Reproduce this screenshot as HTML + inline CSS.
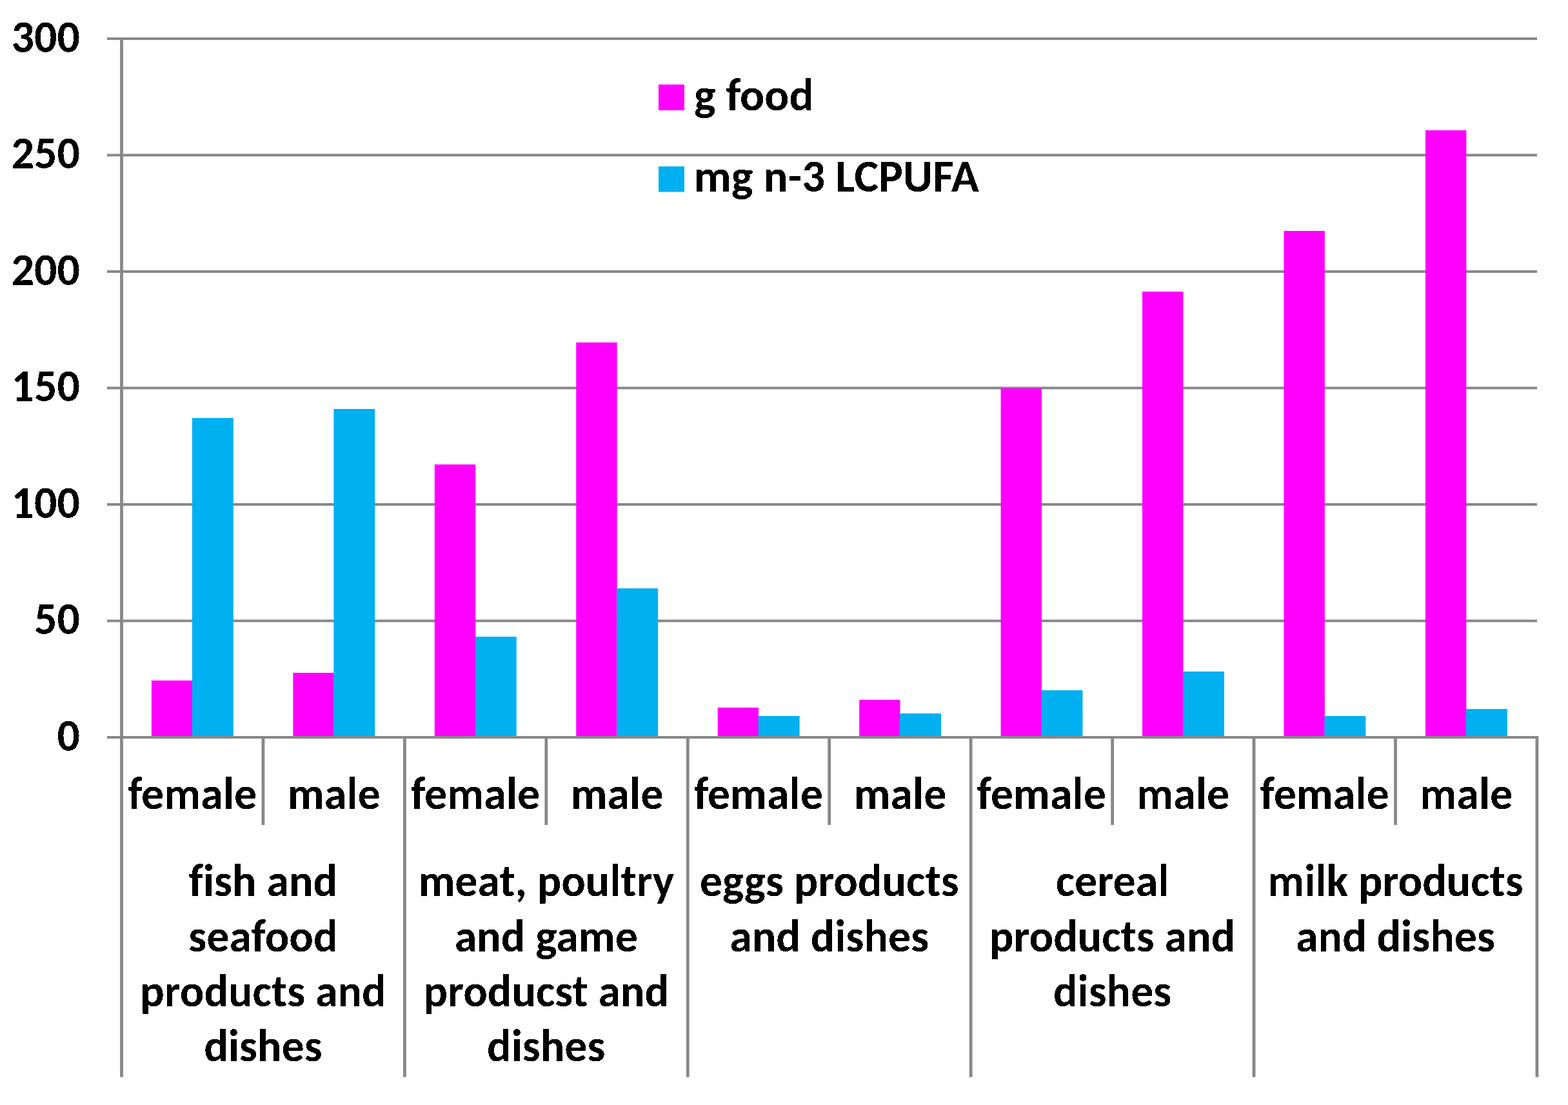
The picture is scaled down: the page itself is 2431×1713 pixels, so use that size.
<!DOCTYPE html>
<html><head><meta charset="utf-8"><title>Chart</title>
<style>
html,body{margin:0;padding:0;background:#fff;}
body{width:2431px;height:1713px;overflow:hidden;}
svg{display:block;}
text{font-family:Carlito, 'Liberation Sans', Arial, sans-serif;font-weight:bold;fill:#000;font-size-adjust:0.4849;font-variant-ligatures:none;font-feature-settings:"liga" 0,"clig" 0;}
</style></head>
<body>
<svg width="2431" height="1713" viewBox="0 0 2431 1713">
<rect width="2431" height="1713" fill="#fff"/>
<rect x="166" y="1141.00" width="2217" height="4" fill="#888888"/>
<rect x="166" y="960.50" width="2217" height="4" fill="#888888"/>
<rect x="166" y="780.00" width="2217" height="4" fill="#888888"/>
<rect x="166" y="599.50" width="2217" height="4" fill="#888888"/>
<rect x="166" y="419.00" width="2217" height="4" fill="#888888"/>
<rect x="166" y="238.50" width="2217" height="4" fill="#888888"/>
<rect x="166" y="58.00" width="2217" height="4" fill="#888888"/>
<rect x="234.93" y="1054.90" width="63.4" height="88.10" fill="#FF00FF"/>
<rect x="454.37" y="1043.00" width="63.4" height="100.00" fill="#FF00FF"/>
<rect x="673.82" y="720.00" width="63.4" height="423.00" fill="#FF00FF"/>
<rect x="893.26" y="530.90" width="63.4" height="612.10" fill="#FF00FF"/>
<rect x="1112.71" y="1096.90" width="63.4" height="46.10" fill="#FF00FF"/>
<rect x="1332.15" y="1084.90" width="63.4" height="58.10" fill="#FF00FF"/>
<rect x="1551.59" y="602.00" width="63.4" height="541.00" fill="#FF00FF"/>
<rect x="1771.04" y="452.00" width="63.4" height="691.00" fill="#FF00FF"/>
<rect x="1990.48" y="358.00" width="63.4" height="785.00" fill="#FF00FF"/>
<rect x="2209.93" y="202.00" width="63.4" height="941.00" fill="#FF00FF"/>
<rect x="297.93" y="648.00" width="63.9" height="495.00" fill="#00B0F0"/>
<rect x="517.37" y="634.00" width="63.9" height="509.00" fill="#00B0F0"/>
<rect x="736.82" y="987.00" width="63.9" height="156.00" fill="#00B0F0"/>
<rect x="956.26" y="912.10" width="63.9" height="230.90" fill="#00B0F0"/>
<rect x="1175.71" y="1109.90" width="63.9" height="33.10" fill="#00B0F0"/>
<rect x="1395.15" y="1106.00" width="63.9" height="37.00" fill="#00B0F0"/>
<rect x="1614.59" y="1070.10" width="63.9" height="72.90" fill="#00B0F0"/>
<rect x="1834.04" y="1041.00" width="63.9" height="102.00" fill="#00B0F0"/>
<rect x="2053.48" y="1110.00" width="63.9" height="33.00" fill="#00B0F0"/>
<rect x="2272.93" y="1099.10" width="63.9" height="43.90" fill="#00B0F0"/>
<rect x="166" y="1141.00" width="2217" height="4" fill="#888888"/>
<rect x="186.1" y="58" width="4.8" height="1611.8" fill="#888888"/>
<rect x="405.54" y="1141" width="4.8" height="137.90" fill="#888888"/>
<rect x="624.99" y="1141" width="4.8" height="528.80" fill="#888888"/>
<rect x="844.43" y="1141" width="4.8" height="137.90" fill="#888888"/>
<rect x="1063.88" y="1141" width="4.8" height="528.80" fill="#888888"/>
<rect x="1283.32" y="1141" width="4.8" height="137.90" fill="#888888"/>
<rect x="1502.76" y="1141" width="4.8" height="528.80" fill="#888888"/>
<rect x="1722.21" y="1141" width="4.8" height="137.90" fill="#888888"/>
<rect x="1941.65" y="1141" width="4.8" height="528.80" fill="#888888"/>
<rect x="2161.10" y="1141" width="4.8" height="137.90" fill="#888888"/>
<rect x="2380.54" y="1141" width="4.8" height="528.80" fill="#888888"/>
<defs><filter id="bin" filterUnits="userSpaceOnUse" x="0" y="0" width="2431" height="1713"><feComponentTransfer><feFuncA type="discrete" tableValues="0 1"/></feComponentTransfer></filter></defs>
<g filter="url(#bin)">
<text x="124.00" y="1163.60" font-size="70" text-anchor="end" textLength="35.48" lengthAdjust="spacingAndGlyphs">0</text>
<text x="124.00" y="983.10" font-size="70" text-anchor="end" textLength="70.97" lengthAdjust="spacingAndGlyphs">50</text>
<text x="124.00" y="802.60" font-size="70" text-anchor="end" textLength="106.44" lengthAdjust="spacingAndGlyphs">100</text>
<text x="124.00" y="622.10" font-size="70" text-anchor="end" textLength="106.44" lengthAdjust="spacingAndGlyphs">150</text>
<text x="124.00" y="441.60" font-size="70" text-anchor="end" textLength="106.44" lengthAdjust="spacingAndGlyphs">200</text>
<text x="124.00" y="261.10" font-size="70" text-anchor="end" textLength="106.44" lengthAdjust="spacingAndGlyphs">250</text>
<text x="124.00" y="80.60" font-size="70" text-anchor="end" textLength="106.44" lengthAdjust="spacingAndGlyphs">300</text>
<text x="298.22" y="1254.00" font-size="70" text-anchor="middle" textLength="200.09" lengthAdjust="spacingAndGlyphs">female</text>
<text x="517.67" y="1254.00" font-size="70" text-anchor="middle" textLength="143.94" lengthAdjust="spacingAndGlyphs">male</text>
<text x="737.11" y="1254.00" font-size="70" text-anchor="middle" textLength="200.09" lengthAdjust="spacingAndGlyphs">female</text>
<text x="956.55" y="1254.00" font-size="70" text-anchor="middle" textLength="143.94" lengthAdjust="spacingAndGlyphs">male</text>
<text x="1176.00" y="1254.00" font-size="70" text-anchor="middle" textLength="200.09" lengthAdjust="spacingAndGlyphs">female</text>
<text x="1395.44" y="1254.00" font-size="70" text-anchor="middle" textLength="143.94" lengthAdjust="spacingAndGlyphs">male</text>
<text x="1614.89" y="1254.00" font-size="70" text-anchor="middle" textLength="200.09" lengthAdjust="spacingAndGlyphs">female</text>
<text x="1834.33" y="1254.00" font-size="70" text-anchor="middle" textLength="143.94" lengthAdjust="spacingAndGlyphs">male</text>
<text x="2053.77" y="1254.00" font-size="70" text-anchor="middle" textLength="200.09" lengthAdjust="spacingAndGlyphs">female</text>
<text x="2273.22" y="1254.00" font-size="70" text-anchor="middle" textLength="143.94" lengthAdjust="spacingAndGlyphs">male</text>
<text x="407.94" y="1389.40" font-size="70" text-anchor="middle" textLength="230.34" lengthAdjust="spacingAndGlyphs">fish and</text>
<text x="407.94" y="1474.67" font-size="70" text-anchor="middle" textLength="231.27" lengthAdjust="spacingAndGlyphs">seafood</text>
<text x="407.94" y="1559.94" font-size="70" text-anchor="middle" textLength="381.34" lengthAdjust="spacingAndGlyphs">products and</text>
<text x="407.94" y="1645.21" font-size="70" text-anchor="middle" textLength="183.42" lengthAdjust="spacingAndGlyphs">dishes</text>
<text x="846.83" y="1389.40" font-size="70" text-anchor="middle" textLength="396.80" lengthAdjust="spacingAndGlyphs">meat, poultry</text>
<text x="846.83" y="1474.67" font-size="70" text-anchor="middle" textLength="284.25" lengthAdjust="spacingAndGlyphs">and game</text>
<text x="846.83" y="1559.94" font-size="70" text-anchor="middle" textLength="380.56" lengthAdjust="spacingAndGlyphs">producst and</text>
<text x="846.83" y="1645.21" font-size="70" text-anchor="middle" textLength="183.42" lengthAdjust="spacingAndGlyphs">dishes</text>
<text x="1285.72" y="1389.40" font-size="70" text-anchor="middle" textLength="401.80" lengthAdjust="spacingAndGlyphs">eggs products</text>
<text x="1285.72" y="1474.67" font-size="70" text-anchor="middle" textLength="308.92" lengthAdjust="spacingAndGlyphs">and dishes</text>
<text x="1724.61" y="1389.40" font-size="70" text-anchor="middle" textLength="175.62" lengthAdjust="spacingAndGlyphs">cereal</text>
<text x="1724.61" y="1474.67" font-size="70" text-anchor="middle" textLength="381.34" lengthAdjust="spacingAndGlyphs">products and</text>
<text x="1724.61" y="1559.94" font-size="70" text-anchor="middle" textLength="183.42" lengthAdjust="spacingAndGlyphs">dishes</text>
<text x="2163.50" y="1389.40" font-size="70" text-anchor="middle" textLength="396.59" lengthAdjust="spacingAndGlyphs">milk products</text>
<text x="2163.50" y="1474.67" font-size="70" text-anchor="middle" textLength="308.92" lengthAdjust="spacingAndGlyphs">and dishes</text>
<text x="1076.00" y="170.70" font-size="71" text-anchor="start" textLength="185.55" lengthAdjust="spacingAndGlyphs">g food</text>
<text x="1076.00" y="297.00" font-size="71" text-anchor="start" textLength="441.81" lengthAdjust="spacingAndGlyphs">mg n-3 LCPUFA</text>
</g>
<rect x="1021" y="131" width="40" height="40" fill="#FF00FF"/>
<rect x="1021" y="258" width="40" height="39.5" fill="#00B0F0"/>
</svg>
</body></html>
